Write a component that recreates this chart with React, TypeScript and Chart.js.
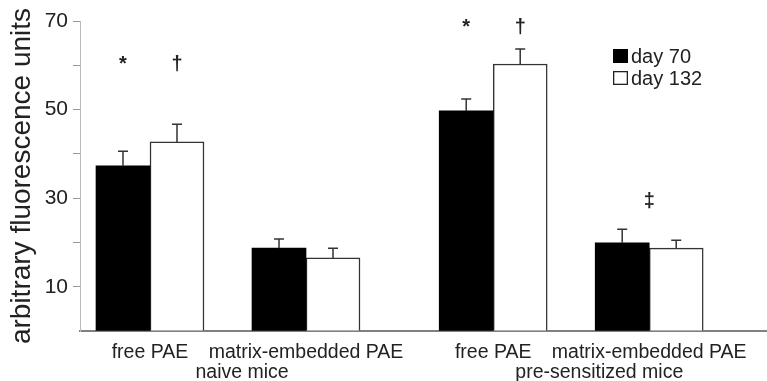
import React, { useEffect, useRef } from 'react';
import { Chart, registerables } from 'chart.js';

Chart.register(...registerables);

// ---- data ----
const categories = ['free PAE', 'matrix-embedded PAE', 'free PAE', 'matrix-embedded PAE'];
const groups = ['naive mice', 'pre-sensitized mice'];
const seriesLabels = ['day 70', 'day 132'];
const day70 = [37.3, 18.7, 49.7, 19.9];
const day70Err = [3.3, 2.1, 2.7, 3.1];
const day132 = [42.7, 16.5, 60.3, 18.7];
const day132Err = [4.0, 2.2, 3.4, 1.8];
const yTickLabels = [10, 30, 50, 70];
const markerText = ['*', '\u2020', '*', '\u2020', '\u2021'];
const markerCategory = [0, 0, 2, 2, 3];
const markerSeries = [0, 1, 0, 1, -1];
const markerValue = [58.9, 58.9, 67.3, 67.3, 28.1];

// ---- layout (axis positions of the category slots, with a gap between groups) ----
const slotX = [1, 2, 3.2, 4.2];
const groupX = [1.59, 3.88];

const FONT = '"Liberation Sans", Arial, Helvetica, sans-serif';
const TEXT = '#222';

const errorBarsPlugin = {
  id: 'errorBars',
  afterDatasetsDraw(chart: any) {
    const { ctx } = chart;
    const ys = chart.scales.y;
    const errs = [day70Err, day132Err];
    ctx.save();
    ctx.strokeStyle = '#333';
    ctx.lineWidth = 1.5;
    chart.data.datasets.forEach((ds: any, di: number) => {
      const meta = chart.getDatasetMeta(di);
      meta.data.forEach((bar: any, i: number) => {
        const v = ds.data[i].y;
        const base = ys.getPixelForValue(v);
        const top = ys.getPixelForValue(v + errs[di][i]);
        ctx.beginPath();
        ctx.moveTo(bar.x, base);
        ctx.lineTo(bar.x, top);
        ctx.moveTo(bar.x - 5, top);
        ctx.lineTo(bar.x + 5, top);
        ctx.stroke();
      });
    });
    ctx.restore();
  },
};

const markersPlugin = {
  id: 'markers',
  afterDatasetsDraw(chart: any) {
    const { ctx } = chart;
    const ys = chart.scales.y;
    const xs = chart.scales.x;
    ctx.save();
    ctx.fillStyle = TEXT;
    ctx.font = `bold 20px ${FONT}`;
    ctx.textAlign = 'center';
    ctx.textBaseline = 'alphabetic';
    markerText.forEach((t, k) => {
      const c = markerCategory[k];
      const s = markerSeries[k];
      const x = s < 0 ? xs.getPixelForValue(slotX[c]) : chart.getDatasetMeta(s).data[c].x;
      ctx.fillText(t, x, ys.getPixelForValue(markerValue[k]));
    });
    ctx.restore();
  },
};

const legendPlugin = {
  id: 'innerLegend',
  afterDraw(chart: any) {
    const { ctx, chartArea } = chart;
    const x0 = chartArea.right - 154;
    let y = chartArea.top + 35;
    ctx.save();
    ctx.font = `20px ${FONT}`;
    ctx.textBaseline = 'middle';
    ctx.textAlign = 'left';
    chart.data.datasets.forEach((ds: any) => {
      ctx.fillStyle = ds.backgroundColor;
      ctx.fillRect(x0, y - 7, 15, 14);
      if (ds.borderWidth > 0) {
        ctx.strokeStyle = '#222';
        ctx.lineWidth = 1.3;
        ctx.strokeRect(x0 + 0.65, y - 6.35, 13.7, 12.7);
      }
      ctx.fillStyle = TEXT;
      ctx.fillText(ds.label, x0 + 18, y + 1);
      y += 22;
    });
    ctx.restore();
  },
};

const xTickValues = [...slotX, ...groupX].sort((a, b) => a - b);

export default function App() {
  const ref = useRef<HTMLCanvasElement | null>(null);

  useEffect(() => {
    if (!ref.current) return;
    const chart = new Chart(ref.current, {
      type: 'bar',
      data: {
        datasets: [
          {
            label: seriesLabels[0],
            data: slotX.map((x, i) => ({ x, y: day70[i] })),
            backgroundColor: '#000',
            borderColor: '#000',
            borderWidth: 0,
          },
          {
            label: seriesLabels[1],
            data: slotX.map((x, i) => ({ x, y: day132[i] })),
            backgroundColor: '#fff',
            borderColor: '#333',
            borderWidth: 1.5,
          },
        ],
      },
      plugins: [errorBarsPlugin, markersPlugin, legendPlugin],
      options: {
        animation: false,
        responsive: false,
        maintainAspectRatio: false,
        barThickness: 54,
        layout: { padding: { top: 21, left: 0, right: 0, bottom: 0 } },
        plugins: { legend: { display: false }, tooltip: { enabled: false } },
        scales: {
          x: {
            type: 'linear',
            position: 'bottom',
            min: 0.5513,
            max: 4.955,
            offset: false,
            afterFit: (scale: any) => {
              scale.height = 50;
            },
            grid: { display: false, drawTicks: false, tickLength: 0, offset: false },
            border: { display: true, color: '#808080', width: 2 },
            afterBuildTicks: (scale: any) => {
              scale.ticks = xTickValues.map((v) => ({ value: v }));
            },
            ticks: {
              autoSkip: false,
              maxRotation: 0,
              minRotation: 0,
              padding: 12,
              color: TEXT,
              font: { family: FONT, size: 19.5, lineHeight: '20px' },
              callback: (v: any) => {
                const i = slotX.indexOf(v);
                if (i >= 0) return categories[i];
                const g = groupX.indexOf(v);
                return g >= 0 ? ['', groups[g]] : '';
              },
            },
          },
          y: {
            min: 0,
            max: 70,
            afterFit: (scale: any) => {
              scale.width = 80;
            },
            grid: {
              drawOnChartArea: false,
              drawTicks: true,
              tickLength: 7,
              tickColor: (c: any) => (c.tick && c.tick.value === 0 ? 'rgba(0,0,0,0)' : '#999'),
            },
            border: { display: true, color: '#bbb', width: 1 },
            ticks: {
              stepSize: 10,
              padding: 5,
              color: TEXT,
              font: { family: FONT, size: 21 },
              callback: (v: any) => (yTickLabels.includes(Number(v)) ? String(v) : ''),
            },
            title: {
              display: true,
              text: 'arbitrary fluorescence units',
              color: TEXT,
              padding: { top: 8, bottom: 0 },
              font: { family: FONT, size: 28, lineHeight: 1 },
            },
          },
        },
      } as any,
    });
    return () => chart.destroy();
  }, []);

  return (
    <div style={{ position: 'absolute', left: 0, top: 0, width: 767, height: 381, background: '#fff' }}>
      <canvas ref={ref} width={767} height={381} style={{ width: 767, height: 381, display: 'block' }} />
    </div>
  );
}
